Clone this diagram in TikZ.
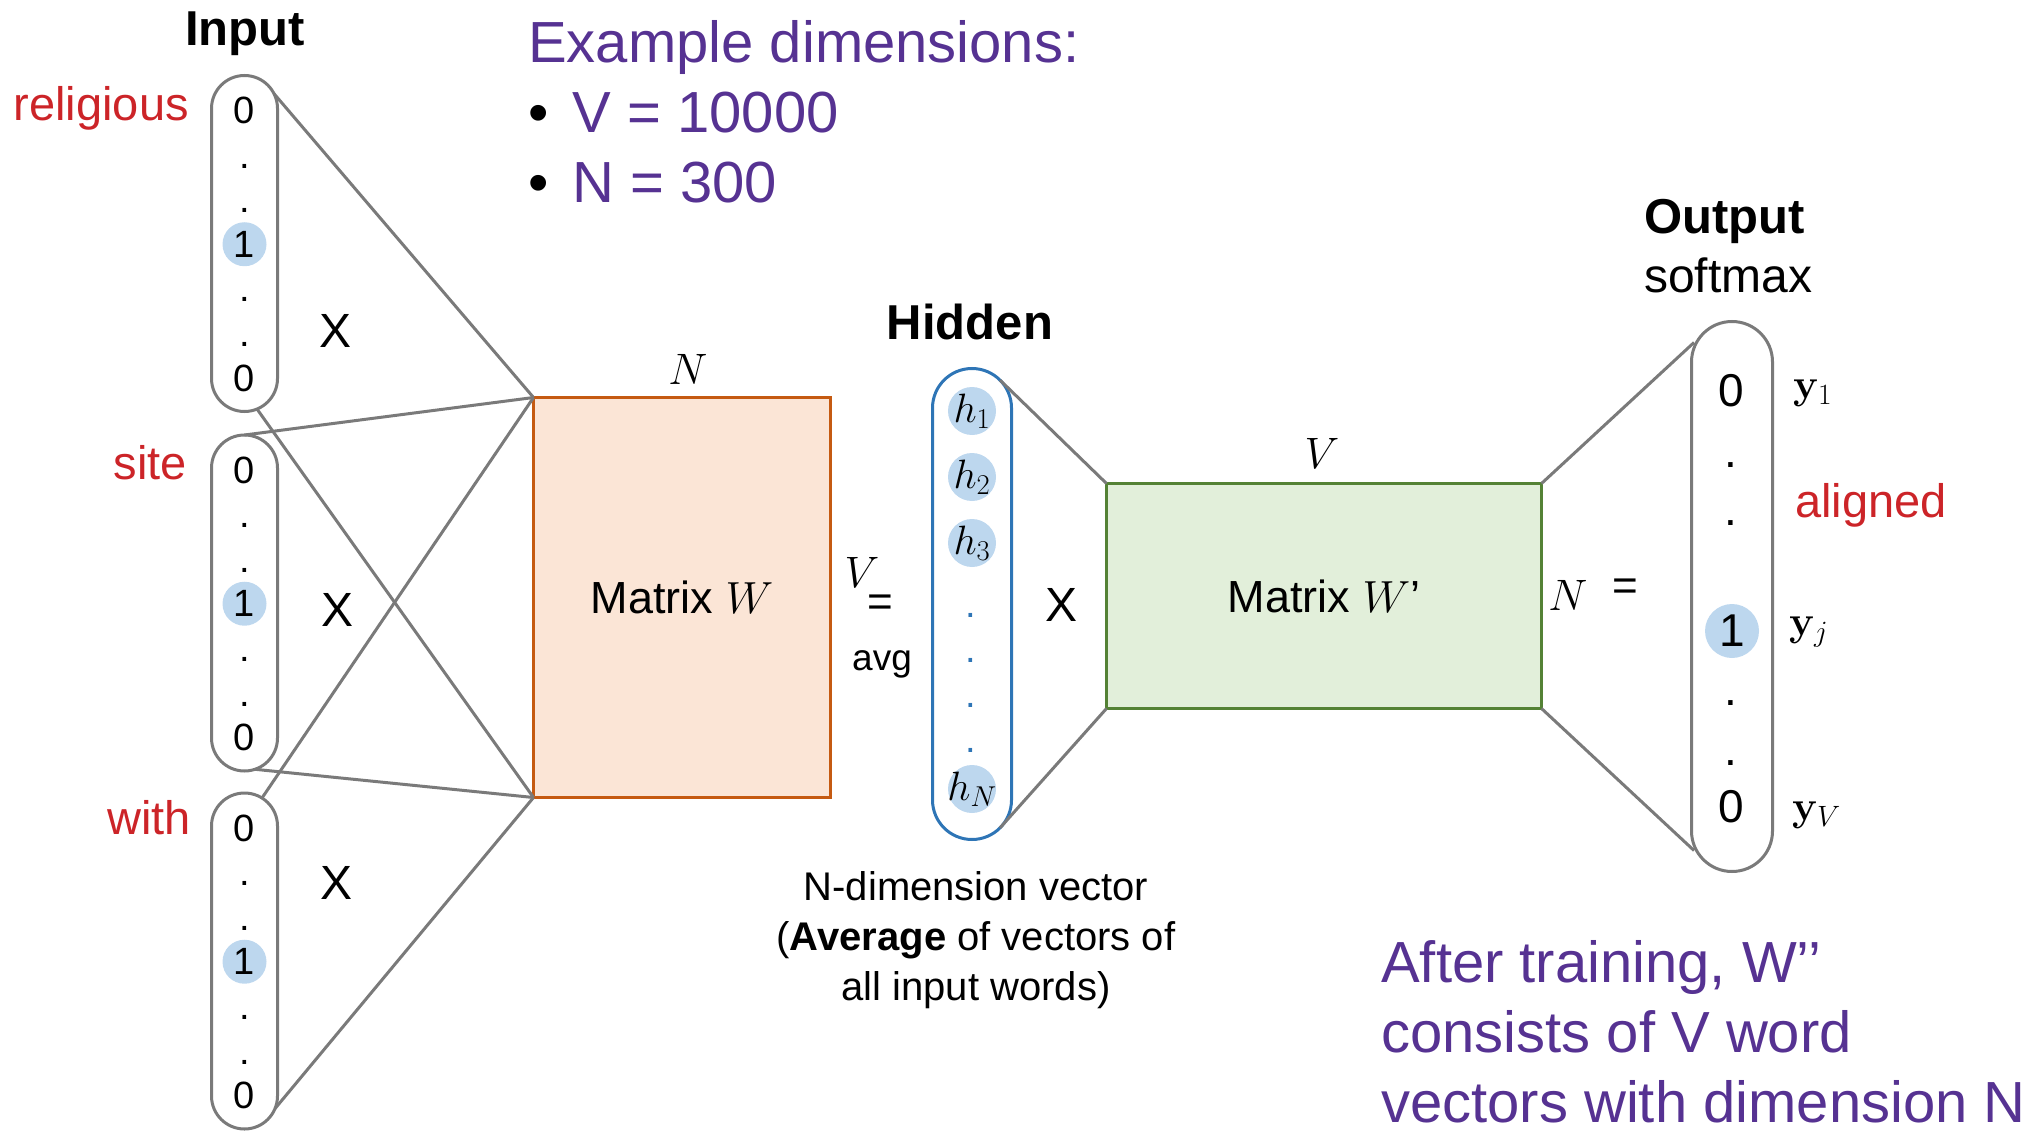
\RequirePackage{fix-cm}
\documentclass[tikz,border=0pt]{standalone}
\usepackage[no-math]{fontspec}
\setmainfont{Liberation Sans}
\usepackage{amsmath}
\usetikzlibrary{calc}

\definecolor{wordred}{RGB}{204,36,40}
\definecolor{notepurple}{RGB}{86,50,146}
\definecolor{linegray}{RGB}{122,122,122}
\definecolor{hotblue}{RGB}{189,215,238}
\definecolor{hidblue}{RGB}{46,117,182}
\definecolor{wborder}{RGB}{197,90,17}
\definecolor{wfill}{RGB}{251,229,214}
\definecolor{wpborder}{RGB}{84,130,53}
\definecolor{wpfill}{RGB}{226,239,218}

\newcommand{\setfs}[2]{\fontsize{#1}{#2}\selectfont}

\begin{document}
\begin{tikzpicture}[x=1pt,y=-1pt,
    pillbox/.style={draw=linegray,line width=3pt,rounded corners=33pt,minimum width=66pt,minimum height=336pt,inner sep=0pt,outer sep=0pt},
    hot/.style={circle,fill=hotblue,inner sep=0pt,minimum size=44pt},
    entry/.style={anchor=base,inner sep=0pt,font=\setfs{38}{38}},
    wordlbl/.style={inner sep=0pt,text=wordred,font=\setfs{47}{47}},
    timeslbl/.style={inner sep=0pt,font=\setfs{48}{48}},
    mathlbl/.style={inner sep=0pt,font=\setfs{44}{44}},
    link/.style={draw=linegray,line width=3pt}]
    \useasboundingbox (0,0) rectangle (2036,1131);

    % input one-hot vectors
    \node[anchor=base,inner sep=0pt,font=\bfseries\setfs{49}{49}] at (245,46) {Input};
    \foreach \n/\cy in {1/243.5, 2/603, 3/961} {
        \node[pillbox] (in\n) at (244.5,\cy) {};
        \foreach \k/\s in {0/0,1/.,2/.,4/.,5/.,6/0}
            \node[entry] at (244.5,\cy-120+\k*44.6) {\s};
        \node[entry,hot] at (244.5,\cy-120+3*44.6) {1};
    }
    \node[wordlbl,anchor=base east] at (189,121) {religious};
    \node[wordlbl,anchor=base east] at (187,479) {site};
    \node[wordlbl,anchor=base east] at (191,834) {with};
    \node[timeslbl] at (336,331) {X};
    \node[timeslbl] at (338,610) {X};
    \node[timeslbl] at (337,883) {X};

    % example dimensions
    \node[anchor=north west,align=left,inner sep=0pt,text=notepurple,font=\setfs{58}{70}] at (528,20)
        {Example dimensions:\\{\color{black}\textbullet}\hspace{24pt}V = 10000\\{\color{black}\textbullet}\hspace{24pt}N = 300};

    % matrix W
    \node[draw=wborder,fill=wfill,line width=3pt,minimum width=297pt,minimum height=400pt,inner sep=0pt,outer sep=0pt,font=\setfs{45}{45}] (W) at (682,597.5) {Matrix $W$};
    \node[mathlbl] at (688,369) {$N$};
    \draw[link] ($(in1.north)+(29.5,18.2)$) -- (W.north west);
    \draw[link] ($(in1.south)+(12.5,-2.5)$) -- (W.south west);
    \draw[link] (in2.north) -- (W.north west);
    \draw[link] ($(in2.south)+(10.5,-1.7)$) -- (W.south west);
    \draw[link] ($(in3.north)+(17.5,5)$) -- (W.north west);
    \draw[link] ($(in3.south)+(30.5,-20.4)$) -- (W.south west);

    % hidden layer
    \node[anchor=base,inner sep=0pt,font=\bfseries\setfs{49}{49}] at (970,340) {Hidden};
    \node[mathlbl] at (862,572) {$V$};
    \node[mathlbl] at (880,606) {=};
    \node[anchor=base,inner sep=0pt,font=\setfs{37}{37}] at (882,670) {avg};
    \node[draw=hidblue,line width=3pt,rounded corners=39.5pt,minimum width=79pt,minimum height=471pt,inner sep=0pt,outer sep=0pt] (hid) at (972,604) {};
    \foreach \i/\cy in {1/411,2/477,3/543,N/789}
        \node[hot,minimum size=48pt,label={[font=\setfs{41}{41}]center:$h_{\i}$}] (h\i) at (972,\cy) {};
    \foreach \cy in {615,660,705,750}
        \node[inner sep=0pt,text=hidblue,font=\setfs{38}{38}] at (971,\cy) {.};
    \node[align=center,anchor=north,inner sep=0pt,font=\setfs{40}{50}] at (976,871)
        {N-dimension vector\\(\textbf{Average} of vectors of\\all input words)};
    \node[timeslbl] at (1061,605) {X};

    % matrix W'
    \node[draw=wpborder,fill=wpfill,line width=3pt,minimum width=435pt,minimum height=225pt,inner sep=0pt,outer sep=0pt,font=\setfs{45}{45}] (Wp) at (1324,596) {Matrix $W$’};
    \node[mathlbl] at (1322,453) {$V$};
    \node[mathlbl] at (1568,595) {$N$};
    \node[mathlbl] at (1625,590) {=};
    \draw[link] ($(hid.north)+(28,11.6)$) -- (Wp.north west);
    \draw[link] ($(hid.south)+(28,-11.6)$) -- (Wp.south west);

    % output softmax
    \node[anchor=base west,inner sep=0pt,font=\bfseries\setfs{49}{49}] at (1644,234) {Output};
    \node[anchor=base west,inner sep=0pt,font=\setfs{48}{48}] at (1644,293) {softmax};
    \node[draw=linegray,line width=3pt,rounded corners=40.5pt,minimum width=81pt,minimum height=550pt,inner sep=0pt,outer sep=0pt] (out) at (1732,596.5) {};
    \foreach \cy/\s in {391/0,465/.,523/.,703/.,763/.,807/0}
        \node[inner sep=0pt,font=\setfs{46}{46}] at (1731,\cy) {\s};
    \node[hot,minimum size=54pt,font=\setfs{46}{46}] (yj) at (1732,631) {1};
    \draw[link] (Wp.north east) -- ($(out.north)+(-38,21)$);
    \draw[link] (Wp.south east) -- ($(out.south)+(-38,-21)$);
    \node[anchor=base west,inner sep=0pt,font=\setfs{42}{42}] at (1793,398) {$\mathbf{y}_1$};
    \node[anchor=base west,inner sep=0pt,font=\setfs{42}{42}] at (1789,635) {$\mathbf{y}_j$};
    \node[anchor=base west,inner sep=0pt,font=\setfs{42}{42}] at (1792,820) {$\mathbf{y}_V$};
    \node[wordlbl,anchor=base west] at (1795,517) {aligned};

    % note after training
    \node[anchor=north west,align=left,inner sep=0pt,text=notepurple,font=\setfs{58}{70}] at (1381,940)
        {After training, W’’\\consists of V word\\vectors with dimension N};
\end{tikzpicture}
\end{document}
